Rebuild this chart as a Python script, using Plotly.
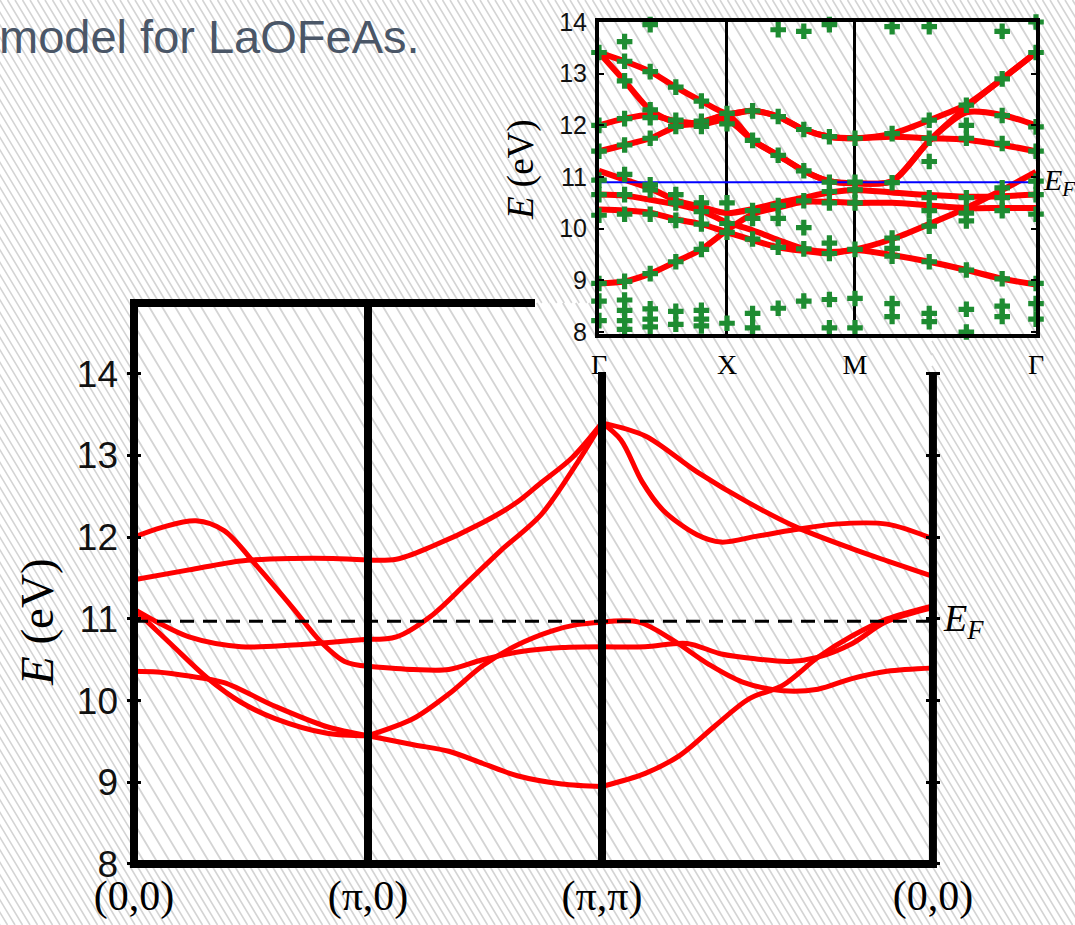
import numpy as np
import plotly.graph_objects as go

SQ2 = float(np.sqrt(2.0))
K_END = 2.0 + SQ2  # Gamma again, after (pi,pi) -> (0,0)

# ---------------- main panel: tight-binding bands ----------------
MAIN_TICK_K = [0.0, 1.0, 2.0, K_END]
MAIN_TICK_TEXT = ["(0,0)", "(\u03c0,0)", "(\u03c0,\u03c0)", "(0,0)"]
E_FERMI_MAIN = 10.97

# each band: k along the path (segment end points repeated) and energy in eV
band_a_k = [0, 0.12, 0.265, 0.385, 0.53, 0.68, 0.795, 0.90, 1.0,
            1.0, 1.194, 1.345, 1.49, 1.655, 1.83, 2.0,
            2.0, 2.184, 2.363, 2.51, 2.66, 2.80, 2.92, 3.07, 3.21, K_END]
band_a_e = [12.0, 12.12, 12.2, 12.08, 11.63, 11.13, 10.73, 10.48, 10.42,
            10.42, 10.38, 10.38, 10.5, 10.6, 10.65, 10.66,
            10.66, 10.66, 10.7, 10.57, 10.51, 10.48, 10.53, 10.7, 10.96, 11.14]

band_b_k = [0, 0.235, 0.457, 0.68, 0.85, 1.0,
            1.0, 1.121, 1.267, 1.491, 1.638, 1.741, 1.871, 2.0,
            2.0, 2.185, 2.406, 2.628, 2.833, 3.068, 3.218, K_END]
band_b_e = [11.48, 11.6, 11.71, 11.74, 11.74, 11.72,
            11.72, 11.73, 11.88, 12.18, 12.43, 12.67, 12.97, 13.4,
            13.4, 13.24, 12.8, 12.42, 12.12, 11.86, 11.71, 11.52]

band_c_k = [0, 0.1, 0.235, 0.457, 0.68, 1.0,
            1.0, 1.121, 1.267, 1.418, 1.565, 1.741, 1.892, 2.0,
            2.0, 2.081, 2.171, 2.261, 2.406, 2.509, 2.658, 2.821, 2.996, 3.218, K_END]
band_c_e = [11.12, 10.96, 10.78, 10.66, 10.68, 10.75,
            10.75, 10.78, 11.03, 11.43, 11.83, 12.28, 12.9, 13.4,
            13.4, 13.19, 12.68, 12.33, 12.03, 11.94, 12.01, 12.09, 12.16, 12.16, 11.98]

band_d_k = [0, 0.162, 0.312, 0.457, 0.603, 0.825, 1.0,
            1.0, 1.194, 1.345, 1.491, 1.638, 1.784, 1.892, 2.0,
            2.0, 2.158, 2.303, 2.453, 2.598, 2.774, 2.923, 3.068, 3.218, K_END]
band_d_e = [11.12, 10.68, 10.28, 9.98, 9.78, 9.6, 9.57,
            9.57, 9.78, 10.08, 10.43, 10.68, 10.85, 10.93, 10.96,
            10.96, 10.96, 10.74, 10.45, 10.23, 10.12, 10.14, 10.27, 10.36, 10.4]

band_e_k = [0, 0.1, 0.235, 0.385, 0.603, 0.825, 1.0,
            1.0, 1.194, 1.345, 1.491, 1.638, 1.828, 2.0,
            2.0, 2.185, 2.333, 2.479, 2.628, 2.774, 2.923, 3.068, 3.218, K_END]
band_e_e = [10.36, 10.35, 10.3, 10.22, 9.93, 9.68, 9.57,
            9.57, 9.46, 9.38, 9.23, 9.08, 8.98, 8.95,
            8.95, 9.11, 9.33, 9.68, 10.02, 10.19, 10.53, 10.79, 11.0, 11.16]

MAIN_BANDS = [(band_a_k, band_a_e), (band_b_k, band_b_e), (band_c_k, band_c_e),
              (band_d_k, band_d_e), (band_e_k, band_e_e)]

# ---------------- inset: LDA bands and Wannier points ----------------
INSET_TICK_TEXT = ["\u0393", "X", "M", "\u0393"]
E_FERMI_INSET = 10.9
INSET_K = [0, 0.2, 0.4, 0.6, 0.8, 1.0, 1.2, 1.4, 1.6, 1.8, 2.0, 2.29, 2.58, 2.87, 3.15, K_END]

inset_band_1 = [13.41, 12.86, 12.3, 12.05, 12.02, 12.1, 11.71, 11.42, 11.12, 10.92, 10.88, 10.92, 11.7, 12.35, 12.9, 13.41]
inset_band_2 = [13.41, 13.24, 13.04, 12.74, 12.47, 12.23, 12.28, 12.17, 11.92, 11.78, 11.75, 11.84, 12.1, 12.4, 12.9, 13.41]
inset_band_3 = [12.0, 12.13, 12.2, 12.08, 12.05, 12.2, 11.71, 11.42, 11.12, 10.92, 10.88, 10.92, 11.7, 12.25, 12.2, 12.0]
inset_band_4 = [11.5, 11.62, 11.75, 11.97, 12.07, 12.2, 12.28, 12.17, 11.92, 11.78, 11.75, 11.78, 11.75, 11.72, 11.62, 11.5]
inset_band_5 = [11.12, 10.95, 10.78, 10.55, 10.42, 10.3, 10.38, 10.5, 10.6, 10.7, 10.75, 10.7, 10.65, 10.62, 10.63, 10.66]
inset_band_6 = [10.66, 10.64, 10.56, 10.47, 10.35, 10.12, 9.97, 9.78, 9.61, 9.55, 9.6, 9.8, 10.09, 10.4, 10.75, 11.1]
inset_band_7 = [10.37, 10.35, 10.31, 10.18, 10.09, 9.93, 9.78, 9.64, 9.57, 9.52, 9.59, 9.49, 9.36, 9.2, 9.03, 8.92]
inset_band_8 = [8.94, 8.98, 9.13, 9.36, 9.6, 9.97, 10.28, 10.41, 10.52, 10.52, 10.5, 10.5, 10.45, 10.4, 10.4, 10.4]
INSET_BANDS = [inset_band_1, inset_band_2, inset_band_3, inset_band_4,
               inset_band_5, inset_band_6, inset_band_7, inset_band_8]

# green crosses, one list of energies per k column of INSET_K
cross_e_by_column = [
    [13.41, 12.0, 11.5, 10.94, 10.66, 10.26, 8.94, 8.6, 8.22],
    [13.62, 13.24, 12.86, 12.13, 11.62, 11.05, 10.66, 10.28, 8.98, 8.62, 8.42, 8.22, 8.05],
    [13.95, 13.04, 12.3, 12.15, 11.75, 10.85, 10.75, 10.28, 9.13, 8.45, 8.25, 8.1],
    [12.74, 12.1, 11.98, 10.66, 10.5, 10.16, 9.36, 8.4, 8.15],
    [12.47, 12.08, 11.98, 10.5, 10.33, 10.09, 9.6, 8.42, 8.25, 8.12],
    [12.23, 12.03, 10.5, 10.1, 9.93, 8.17],
    [14.02, 12.28, 11.71, 10.35, 10.2, 9.8, 8.36, 8.08],
    [13.85, 12.17, 11.42, 10.45, 10.2, 9.64, 8.46],
    [13.82, 11.92, 11.12, 10.54, 10.02, 9.61, 8.6],
    [13.95, 11.78, 10.9, 10.72, 10.5, 9.72, 9.52, 8.63, 8.08],
    [11.75, 10.9, 10.75, 10.5, 9.6, 8.65, 8.08],
    [13.91, 11.84, 10.89, 9.82, 9.62, 9.47, 8.55, 8.3],
    [13.91, 12.1, 11.75, 11.3, 10.6, 10.35, 10.05, 9.36, 8.36, 8.2],
    [12.39, 12.0, 11.75, 10.6, 10.3, 10.15, 9.2, 8.44, 8.0],
    [13.82, 12.9, 12.19, 11.65, 10.79, 10.6, 10.35, 9.03, 8.5, 8.3],
    [14.0, 13.41, 11.97, 11.5, 10.92, 10.66, 10.28, 8.94, 8.55, 8.25],
]

TITLE_TEXT = "model for LaOFeAs."

# ---------------- geometry / style ----------------
FIG_W, FIG_H = 1075, 925
RED = "#ff0000"
GREEN = "#1e8c32"
SANS = "Liberation Sans, Arial, sans-serif"
SERIF = "Liberation Serif, Times New Roman, serif"

# main plot mapping (pixels)
MX0, MPX_PER_K = 134.0, 234.0
MY8, MPX_PER_E = 864.0, 81.7
M_XR = [-0.03, K_END + 0.03]
M_YR = [7.9, 14.95]
Y_TOP = 8 + (MY8 - 303) / MPX_PER_E
Y_CUT = 8 + (MY8 - 372) / MPX_PER_E
K_TOP_END = (535 - MX0) / MPX_PER_K


def px_x(k):
    return MX0 + k * MPX_PER_K


def px_y(e):
    return MY8 - (e - 8) * MPX_PER_E


main_xdom = [px_x(M_XR[0]) / FIG_W, px_x(M_XR[1]) / FIG_W]
main_ydom = [1 - px_y(M_YR[0]) / FIG_H, 1 - px_y(M_YR[1]) / FIG_H]

# inset mapping (axis lines are drawn just outside this box)
I_XL, I_XR = 599.0, 1036.0
I_YB, I_YT = 334.0, 22.0
I_YR = [7.962, 14.0]
inset_xdom = [I_XL / FIG_W, I_XR / FIG_W]
inset_ydom = [1 - I_YB / FIG_H, 1 - I_YT / FIG_H]


def split_segments(ks, es):
    xs, ys = [], []
    for i, (k, e) in enumerate(zip(ks, es)):
        if i > 0 and abs(k - ks[i - 1]) < 1e-9:
            xs.append(None)
            ys.append(None)
        xs.append(k)
        ys.append(e)
    return xs, ys


fig = go.Figure()

for ks, es in MAIN_BANDS:
    xs, ys = split_segments(ks, es)
    fig.add_trace(go.Scatter(x=xs, y=ys, mode="lines", xaxis="x", yaxis="y",
                             line=dict(color=RED, width=5, shape="spline", smoothing=0.9),
                             hoverinfo="skip", showlegend=False))

fig.add_trace(go.Scatter(x=[0, K_END], y=[E_FERMI_MAIN, E_FERMI_MAIN], mode="lines",
                         xaxis="x", yaxis="y",
                         line=dict(color="black", width=3, dash="14px,9px"),
                         hoverinfo="skip", showlegend=False))

for es in INSET_BANDS:
    fig.add_trace(go.Scatter(x=INSET_K, y=es, mode="lines", xaxis="x2", yaxis="y2",
                             line=dict(color=RED, width=6, shape="spline", smoothing=0.8),
                             hoverinfo="skip", showlegend=False))

fig.add_trace(go.Scatter(x=[0, K_END], y=[E_FERMI_INSET, E_FERMI_INSET], mode="lines",
                         xaxis="x2", yaxis="y2", line=dict(color="#0000ff", width=2),
                         hoverinfo="skip", showlegend=False))

cross_k, cross_e = [], []
for k, col in zip(INSET_K, cross_e_by_column):
    for e in col:
        cross_k.append(k)
        cross_e.append(e)
fig.add_trace(go.Scatter(x=cross_k, y=cross_e, mode="markers", xaxis="x2", yaxis="y2",
                         marker=dict(symbol="cross", size=13, color=GREEN, line=dict(width=0)),
                         cliponaxis=False, hoverinfo="skip", showlegend=False))

# ---------------- frame of main panel (thick lines) ----------------
LW = 8
hx = (LW / 2) / MPX_PER_K
hy = (LW / 2) / MPX_PER_E
frame = [
    (0, 8 - hy, 0, Y_TOP + hy),
    (-hx, 8, K_END + hx, 8),
    (-hx, Y_TOP, K_TOP_END, Y_TOP),
    (1, 8, 1, Y_TOP),
    (2, 8, 2, Y_CUT),
    (K_END, 8 - hy, K_END, Y_CUT),
]
shapes = []
for x0, y0, x1, y1 in frame:
    shapes.append(dict(type="line", xref="x", yref="y", x0=x0, y0=y0, x1=x1, y1=y1,
                       line=dict(color="black", width=LW), layer="above"))


# ---------------- background hatching ----------------
def hatch_path(spacing, slope, rects, inside, offset=0.0):
    segs = []
    x0 = -slope * FIG_H - spacing + offset
    while x0 < FIG_W + spacing:
        iv = []
        for rx0, ry0, rx1, ry1 in rects:
            lo = max(ry0, (rx0 - x0) / slope)
            hi = min(ry1, (rx1 - x0) / slope)
            if hi > lo:
                iv.append((lo, hi))
        iv.sort()
        merged = []
        for a, b in iv:
            if merged and a <= merged[-1][1]:
                merged[-1] = (merged[-1][0], max(b, merged[-1][1]))
            else:
                merged.append((a, b))
        if inside:
            keep = merged
        else:
            keep, cur = [], 0.0
            for a, b in merged:
                if a > cur:
                    keep.append((cur, a))
                cur = max(cur, b)
            if cur < FIG_H:
                keep.append((cur, FIG_H))
        for a, b in keep:
            xa, xb = x0 + slope * a, x0 + slope * b
            segs.append("M%.5f,%.5fL%.5f,%.5f" % (xa / FIG_W, 1 - a / FIG_H, xb / FIG_W, 1 - b / FIG_H))
        x0 += spacing
    return "".join(segs)


boxes = [(134, 303, 932, 864), (597, 20, 1038, 336)]
shapes.append(dict(type="path", xref="paper", yref="paper", layer="below",
                   path=hatch_path(7.5, 0.6, boxes, inside=False),
                   line=dict(color="#d4d4d4", width=1.6)))
shapes.append(dict(type="path", xref="paper", yref="paper", layer="below",
                   path=hatch_path(13.0, 0.6, boxes, inside=True),
                   line=dict(color="#d4d4d4", width=1.8)))

annotations = [
    dict(text=TITLE_TEXT, xref="paper", yref="paper", x=-0.003, y=1 - 36 / FIG_H,
         xanchor="left", yanchor="middle", showarrow=False,
         font=dict(family=SANS, size=47, color="#4a5667")),
    dict(text="<i>E</i> (eV)", xref="paper", yref="paper", x=37 / FIG_W, y=1 - 622 / FIG_H,
         textangle=-90, xanchor="center", yanchor="middle", showarrow=False,
         font=dict(family=SERIF, size=47, color="black")),
    dict(text="<i>E<sub>F</sub></i>", xref="x", yref="y", x=K_END, y=E_FERMI_MAIN,
         xanchor="left", yanchor="middle", xshift=8, showarrow=False,
         font=dict(family=SERIF, size=38, color="black")),
    dict(text="<i>E</i> (eV)", xref="paper", yref="paper", x=521 / FIG_W, y=1 - 170 / FIG_H,
         textangle=-90, xanchor="center", yanchor="middle", showarrow=False,
         font=dict(family=SERIF, size=37, color="black")),
    dict(text="<i>E<sub>F</sub></i>", xref="x2", yref="y2", x=K_END, y=E_FERMI_INSET,
         xanchor="left", yanchor="middle", xshift=5, showarrow=False,
         font=dict(family=SERIF, size=30, color="black")),
]

fig.update_layout(
    width=FIG_W, height=FIG_H,
    margin=dict(l=0, r=0, t=0, b=0, pad=0, autoexpand=False),
    paper_bgcolor="white", plot_bgcolor="rgba(0,0,0,0)",
    showlegend=False,
    shapes=shapes, annotations=annotations,
    xaxis=dict(domain=main_xdom, range=M_XR, anchor="y", automargin=False,
               tickmode="array", tickvals=MAIN_TICK_K, ticktext=MAIN_TICK_TEXT,
               ticks="", showline=False, showgrid=False, zeroline=False,
               ticklabelstandoff=-5,
               tickfont=dict(family=SERIF, size=42, color="black")),
    yaxis=dict(domain=main_ydom, range=M_YR, anchor="x", automargin=False,
               tickmode="array", tickvals=[8, 9, 10, 11, 12, 13, 14],
               ticks="inside", ticklen=14, tickwidth=2.5, tickcolor="black",
               mirror="ticks", showline=False, showgrid=False, zeroline=False,
               ticklabelstandoff=8,
               tickfont=dict(family=SANS, size=37, color="#111111")),
    xaxis2=dict(domain=inset_xdom, range=[0, K_END], anchor="y2", automargin=False,
                tickmode="array", tickvals=[0, 1, 2, K_END], ticktext=INSET_TICK_TEXT,
                ticks="", showline=True, mirror=True, linewidth=4, linecolor="black",
                showgrid=True, gridcolor="black", gridwidth=3, zeroline=False,
                ticklabelstandoff=2,
                tickfont=dict(family=SERIF, size=28, color="black")),
    yaxis2=dict(domain=inset_ydom, range=I_YR, anchor="x2", automargin=False,
                tickmode="array", tickvals=[8, 9, 10, 11, 12, 13, 14],
                ticks="inside", ticklen=5, tickwidth=1.5, tickcolor="black",
                showline=True, mirror="ticks", linewidth=4, linecolor="black",
                showgrid=False, zeroline=False, ticklabelstandoff=3,
                tickfont=dict(family=SANS, size=25, color="#111111")),
)

fig.write_html("out.html")
